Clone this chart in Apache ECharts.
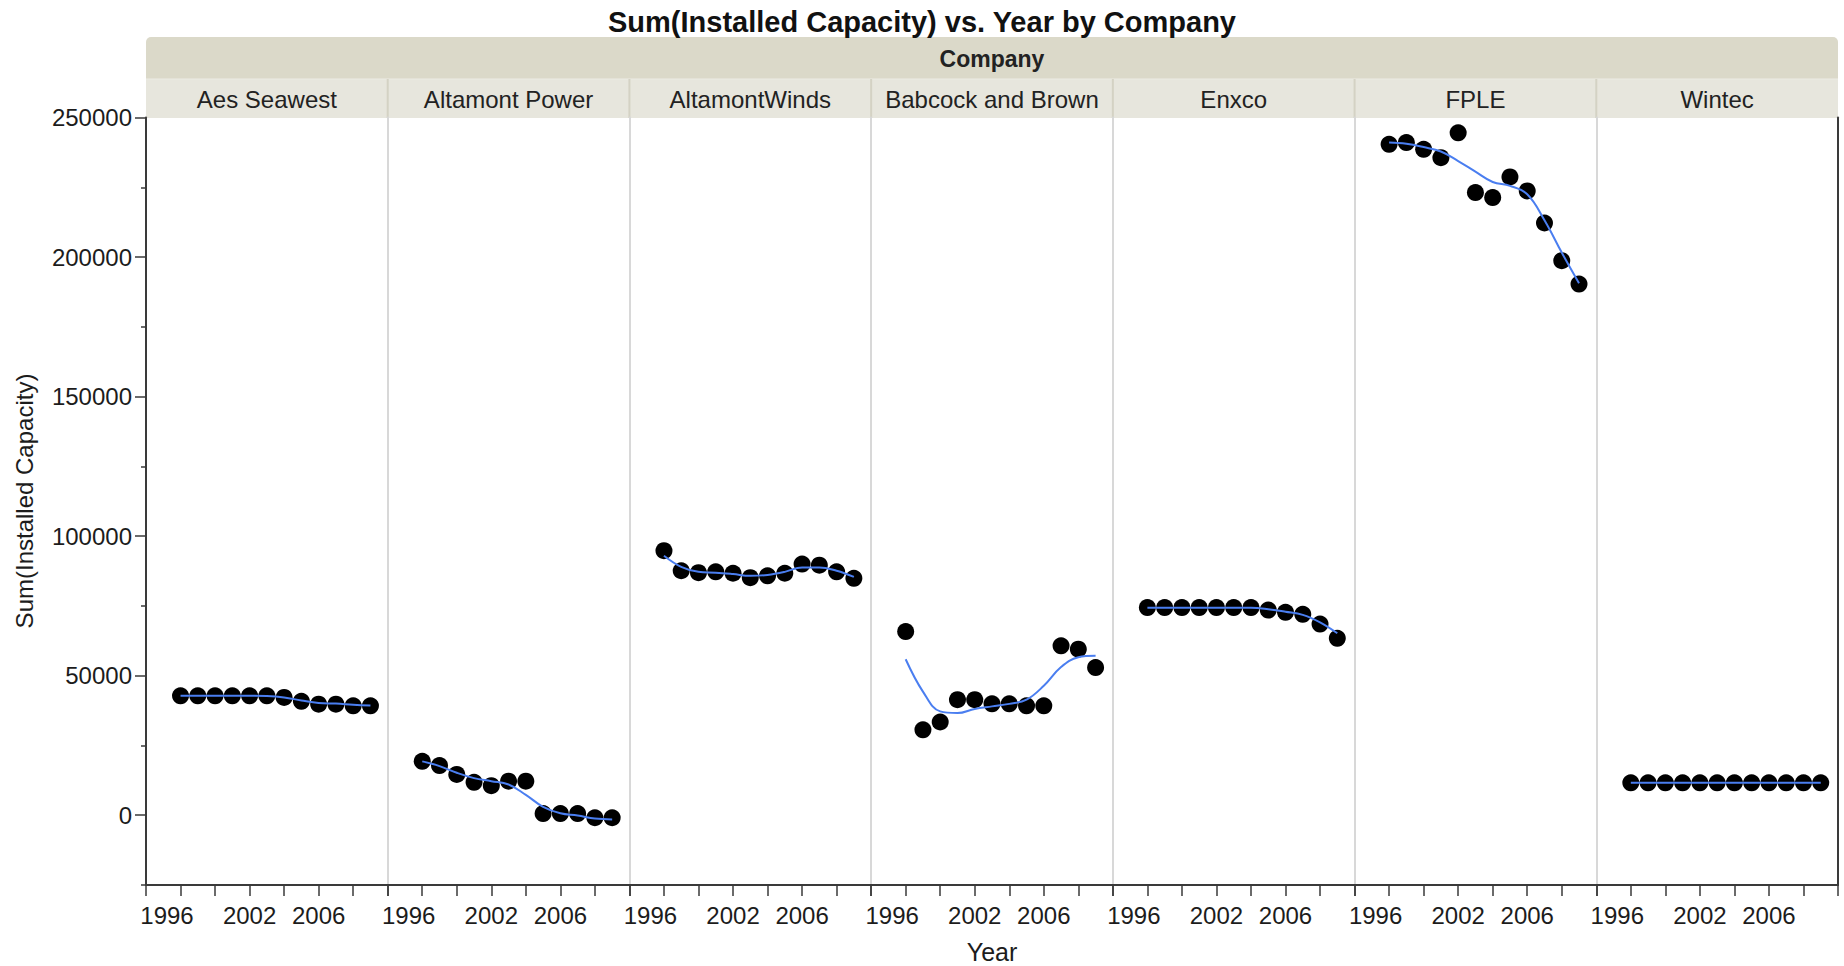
<!DOCTYPE html>
<html><head><meta charset="utf-8">
<script src="https://cdn.jsdelivr.net/npm/echarts@6/dist/echarts.min.js"></script>
<style>html,body{margin:0;padding:0;background:#fff}#c{width:1844px;height:966px}</style>
</head><body><div id="c"></div>
<script>
// ---------------- data ----------------
const years = [1998, 1999, 2000, 2001, 2002, 2003, 2004, 2005, 2006, 2007, 2008, 2009];
const companies = ['Aes Seawest', 'Altamont Power', 'AltamontWinds', 'Babcock and Brown', 'Enxco', 'FPLE', 'Wintec'];

const aesSeawest      = [42800, 42800, 42800, 42800, 42800, 42800, 42200, 40800, 39800, 39800, 39200, 39200];
const altamontPower   = [19300, 17800, 14600, 11800, 10600, 12200, 12200, 600, 600, 600, -900, -900];
const altamontWinds   = [94800, 87600, 86900, 87200, 86700, 85100, 85800, 86700, 90000, 89600, 87200, 84900];
const babcockBrown    = [65800, 30600, 33400, 41400, 41400, 39900, 39900, 39200, 39200, 60700, 59500, 52900];
const enxco           = [74400, 74400, 74400, 74400, 74400, 74400, 74400, 73500, 72700, 72000, 68500, 63400];
const fple            = [240400, 241000, 238600, 235600, 244500, 223100, 221300, 228700, 223700, 212200, 198700, 190300];
const wintec          = [11600, 11600, 11600, 11600, 11600, 11600, 11600, 11600, 11600, 11600, 11600, 11600];

// smoother (blue curve)
const fitAesSeawest    = [42800, 42800, 42800, 42800, 42800, 42700, 42200, 41100, 40200, 40000, 39600, 39300];
const fitAltamontPower = [19300, 17600, 15200, 13300, 12200, 11000, 7300, 3000, 700, -100, -1200, -1500];
const fitAltamontWinds = [93000, 89000, 87200, 86900, 86400, 85800, 86100, 87200, 88800, 88800, 87600, 85400];
const fitBabcockBrown  = [55900, 44300, 37200, 36600, 38100, 39000, 39900, 41400, 46400, 53100, 56600, 57100];
const fitEnxco         = [74300, 74300, 74300, 74300, 74300, 74300, 74300, 73800, 72900, 71800, 69100, 65200];
const fitFple          = [241000, 240600, 239400, 237800, 234400, 230600, 226900, 225500, 222500, 213200, 201600, 190600];
const fitWintec        = [11600, 11600, 11600, 11600, 11600, 11600, 11600, 11600, 11600, 11600, 11600, 11600];

const xTickLabels = [1996, 2002, 2006];
const yTickLabels = [0, 50000, 100000, 150000, 200000, 250000];
const yMinorTicks = [-25000, 25000, 75000, 125000, 175000, 225000];

const titleText = 'Sum(Installed Capacity) vs. Year by Company';
const headerText = 'Company';
const xName = 'Year';
const yName = 'Sum(Installed Capacity)';

const values = [aesSeawest, altamontPower, altamontWinds, babcockBrown, enxco, fple, wintec];
const fits = [fitAesSeawest, fitAltamontPower, fitAltamontWinds, fitBabcockBrown, fitEnxco, fitFple, fitWintec];

// ---------------- layout ----------------
const L = 146, R = 1838, T = 117.5, B = 885;
const n = companies.length, pw = (R - L) / n;
const FONT = '"Liberation Sans", Arial, sans-serif';
const DARK = '#3a3a3a';
const TXT = '#1c1c1c';
const FS = 24;

const grids = [], xAxes = [], yAxes = [], series = [];
companies.forEach((c, i) => {
  grids.push({left: L + i * pw, width: pw, top: T, height: B - T});
  xAxes.push({
    type: 'value', gridIndex: i, min: 1996, max: 2010, interval: 2,
    axisLine: {onZero: false, lineStyle: {color: DARK, width: 2}},
    axisTick: {length: 11, lineStyle: {color: DARK, width: 1.5}},
    splitLine: {show: false},
    axisLabel: {
      margin: 18, fontSize: FS, fontFamily: FONT, color: TXT,
      showMinLabel: true, showMaxLabel: true,
      formatter: v => xTickLabels.includes(v) ? (v === 1996 ? '{f|' + v + '}' : String(v)) : '',
      rich: {f: {padding: [0, 0, 0, 42], fontSize: FS, fontFamily: FONT, color: TXT}}
    }
  });
  yAxes.push(i === 0 ? {
    type: 'value', gridIndex: 0, min: -25000, max: 250000,
    axisLine: {show: true, onZero: false, lineStyle: {color: DARK, width: 2}},
    axisTick: {show: true, length: 11, customValues: yTickLabels, lineStyle: {color: DARK, width: 1.5}},
    axisLabel: {customValues: yTickLabels, margin: 14, fontSize: FS, fontFamily: FONT, color: TXT, formatter: v => String(v)},
    splitLine: {show: false}
  } : {
    type: 'value', gridIndex: i, min: -25000, max: 250000,
    axisLine: {show: true, onZero: false, lineStyle: {color: '#d8d8d8', width: 2}},
    axisTick: {show: false}, axisLabel: {show: false}, splitLine: {show: false}
  });
});
// minor ticks on the left axis
yAxes.push({
  type: 'value', gridIndex: 0, position: 'left', min: -25000, max: 250000,
  axisLine: {show: false, onZero: false},
  axisTick: {show: true, length: 5, customValues: yMinorTicks, lineStyle: {color: DARK, width: 1.5}},
  axisLabel: {show: false}, splitLine: {show: false}
});
// right frame
yAxes.push({
  type: 'value', gridIndex: n - 1, position: 'right', min: -25000, max: 250000,
  axisLine: {show: true, onZero: false, lineStyle: {color: DARK, width: 2}},
  axisTick: {show: false}, axisLabel: {show: false}, splitLine: {show: false}
});

companies.forEach((c, i) => {
  series.push({
    type: 'scatter', name: c, xAxisIndex: i, yAxisIndex: i,
    data: years.map((y, j) => [y, values[i][j]]),
    symbolSize: 17, itemStyle: {color: '#000', opacity: 1}, z: 2
  });
  series.push({
    type: 'line', name: c + ' fit', xAxisIndex: i, yAxisIndex: i,
    data: years.map((y, j) => [y, fits[i][j]]),
    smooth: 0.4, symbol: 'none', lineStyle: {color: '#4a7ef0', width: 2}, z: 3
  });
});

// header graphics
const graphics = [
  {type: 'rect', shape: {x: L, y: 37, width: R - L, height: 42, r: [5, 5, 0, 0]}, style: {fill: '#dbd9c9'}, silent: true},
  {type: 'rect', shape: {x: L, y: 79, width: R - L, height: 39}, style: {fill: '#e7e6dd'}, silent: true},
  {type: 'line', shape: {x1: L, y1: 79, x2: R, y2: 79}, style: {stroke: '#ecebe4', lineWidth: 1}, silent: true},
  {type: 'text', x: 922, y: 22, style: {text: titleText, font: 'bold 29px ' + FONT, fill: '#111', textAlign: 'center', textVerticalAlign: 'middle'}},
  {type: 'text', x: (L + R) / 2, y: 59, style: {text: headerText, font: 'bold 23px ' + FONT, fill: '#222', textAlign: 'center', textVerticalAlign: 'middle'}},
  {type: 'text', x: (L + R) / 2, y: 952, style: {text: xName, font: '25px ' + FONT, fill: TXT, textAlign: 'center', textVerticalAlign: 'middle'}},
  {type: 'text', x: 24, y: 501, rotation: Math.PI / 2, style: {text: yName, font: '24px ' + FONT, fill: TXT, textAlign: 'center', textVerticalAlign: 'middle'}}
];
companies.forEach((c, i) => {
  if (i > 0) graphics.push({type: 'line', shape: {x1: L + i * pw, y1: 79, x2: L + i * pw, y2: 118}, style: {stroke: '#d4d2c4', lineWidth: 2}, silent: true});
  graphics.push({type: 'text', x: L + (i + 0.5) * pw, y: 99, style: {text: c, font: '24px ' + FONT, fill: '#222', textAlign: 'center', textVerticalAlign: 'middle'}});
});

const chart = echarts.init(document.getElementById('c'), null, {renderer: 'svg'});
chart.setOption({
  animation: false,
  backgroundColor: '#fff',
  grid: grids, xAxis: xAxes, yAxis: yAxes, series: series,
  graphic: graphics
});
</script></body></html>
